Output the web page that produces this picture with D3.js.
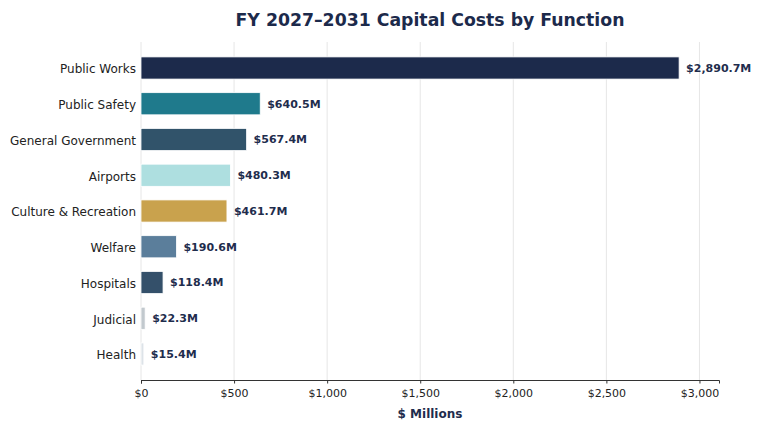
<!DOCTYPE html>
<html>
<head>
<meta charset="utf-8">
<script src="https://cdn.jsdelivr.net/npm/d3@7"></script>
<style>
  body { margin: 0; background: #fff; }
  svg { font-family: "DejaVu Sans", sans-serif; }
</style>
</head>
<body>
<div id="chart"></div>
<script>
var categories = ["Public Works", "Public Safety", "General Government", "Airports",
  "Culture & Recreation", "Welfare", "Hospitals", "Judicial", "Health"];
var values = [2890.7, 640.5, 567.4, 480.3, 461.7, 190.6, 118.4, 22.3, 15.4];
var barColors = ["#1c2a4b", "#1f7a8c", "#31536a", "#aedfe0", "#c9a24d",
  "#5b7e9b", "#34506a", "#c2c9ce", "#dde3e8"];
var xTicks = [0, 500, 1000, 1500, 2000, 2500, 3000];

var data = categories.map(function(c, i) {
  return { name: c, value: values[i], color: barColors[i] };
});

var w = 768, h = 425;
var plotLeft = 141, plotRight = 719, plotTop = 42, plotBottom = 380;

var svg = d3.select("#chart").append("svg")
  .attr("width", w)
  .attr("height", h);

var xScale = d3.scaleLinear()
  .domain([0, 3105])
  .range([plotLeft, plotRight]);

var yScale = d3.scaleBand()
  .domain(categories)
  .range([plotTop, plotBottom])
  .paddingInner(0.38)
  .paddingOuter(0.417);

// grid
svg.selectAll(".grid")
  .data(xTicks)
  .enter()
  .append("line")
  .attr("class", "grid")
  .attr("x1", function(d) { return xScale(d); })
  .attr("x2", function(d) { return xScale(d); })
  .attr("y1", plotTop)
  .attr("y2", plotBottom)
  .attr("stroke", "#e6e6e6")
  .attr("stroke-width", 1);

// bars
svg.selectAll(".bar")
  .data(data)
  .enter()
  .append("rect")
  .attr("class", "bar")
  .attr("x", xScale(0))
  .attr("y", function(d) { return yScale(d.name); })
  .attr("width", function(d) { return xScale(d.value) - xScale(0); })
  .attr("height", yScale.bandwidth())
  .attr("fill", function(d) { return d.color; })
  .attr("stroke", "#ffffff")
  .attr("stroke-width", 0.8);

// value labels
svg.selectAll(".val")
  .data(data)
  .enter()
  .append("text")
  .attr("class", "val")
  .text(function(d) { return "$" + d3.format(",.1f")(d.value) + "M"; })
  .attr("x", function(d) { return xScale(d.value) + 7; })
  .attr("y", function(d) { return yScale(d.name) + yScale.bandwidth() / 2; })
  .attr("dy", "0.35em")
  .attr("font-size", "11px")
  .attr("font-weight", "bold")
  .attr("fill", "#1f2d4d");

// category labels
svg.selectAll(".cat")
  .data(categories)
  .enter()
  .append("text")
  .attr("class", "cat")
  .text(function(d) { return d; })
  .attr("x", plotLeft - 5)
  .attr("y", function(d) { return yScale(d) + yScale.bandwidth() / 2; })
  .attr("dy", "0.45em")
  .attr("text-anchor", "end")
  .attr("font-size", "12px")
  .attr("fill", "#222");

// x axis
var xAxis = svg.append("g")
  .attr("transform", "translate(0," + plotBottom + ")")
  .call(d3.axisBottom(xScale)
    .tickValues(xTicks)
    .tickSize(3.5)
    .tickPadding(5.5)
    .tickFormat(function(d) { return "$" + d3.format(",")(d); }));
xAxis.select(".domain").attr("stroke", "#333").attr("stroke-width", 1);
xAxis.selectAll(".tick line").attr("stroke", "#333");
xAxis.selectAll(".tick text")
  .attr("font-size", "11px")
  .attr("font-family", "DejaVu Sans, sans-serif")
  .attr("fill", "#222");

// x label
svg.append("text")
  .text("$ Millions")
  .attr("x", (plotLeft + plotRight) / 2)
  .attr("y", 418)
  .attr("text-anchor", "middle")
  .attr("font-size", "12px")
  .attr("font-weight", "bold")
  .attr("fill", "#1f2d4d");

// title
svg.append("text")
  .text("FY 2027\u20132031 Capital Costs by Function")
  .attr("x", (plotLeft + plotRight) / 2)
  .attr("y", 26)
  .attr("text-anchor", "middle")
  .attr("font-size", "17.3px")
  .attr("font-weight", "bold")
  .attr("fill", "#1c2a4b");
</script>
</body>
</html>
